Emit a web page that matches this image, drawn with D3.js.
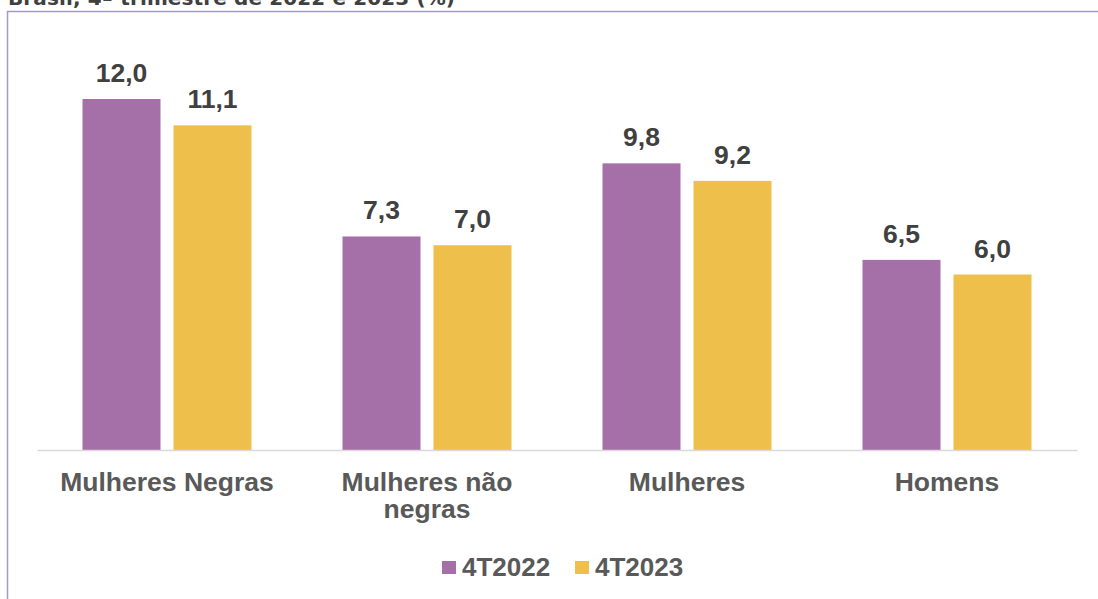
<!DOCTYPE html>
<html>
<head>
<meta charset="utf-8">
<script src="https://cdn.jsdelivr.net/npm/d3@7"></script>
<style>
  body { margin: 0; background: #fff; }
  svg { display: block; }
</style>
</head>
<body>
<svg id="chart" width="1098" height="599"></svg>
<script>
var categories = ["Mulheres Negras", "Mulheres não negras", "Mulheres", "Homens"];
var catLines = [["Mulheres Negras"], ["Mulheres não", "negras"], ["Mulheres"], ["Homens"]];
var series = ["4T2022", "4T2023"];
var values2022 = [12.0, 7.3, 9.8, 6.5];
var values2023 = [11.1, 7.0, 9.2, 6.0];
var colors = ["#A56FA7", "#EEBF4A"];

var svg = d3.select("#chart");

// title, cut off at the top like the original
svg.append("text")
    .attr("x", 8)
    .attr("y", 5)
    .attr("textLength", 447)
    .style("font-family", "DejaVu Sans")
    .style("font-weight", "bold")
    .style("font-size", "20px")
    .style("fill", "#404040")
    .text("Brasil, 4º trimestre de 2022 e 2023 (%)");

// frame lines
svg.append("line")
    .attr("x1", 7).attr("y1", 11.5).attr("x2", 1098).attr("y2", 11.5)
    .style("stroke", "#A29BC2").style("stroke-width", 1.5);
svg.append("line")
    .attr("x1", 7.5).attr("y1", 11).attr("x2", 7.5).attr("y2", 599)
    .style("stroke", "#A29BC2").style("stroke-width", 1.5);

var x0 = d3.scaleBand().domain(categories).range([37, 1077]);
var x1 = d3.scaleBand().domain(series).range([0, x0.bandwidth()])
    .paddingInner(1 / 7).paddingOuter(0.5);
var y = d3.scaleLinear().domain([0, 14]).range([450, 40.5]);

var data = categories.map(function(c, i){
    return { cat: c, vals: [
        { s: series[0], v: values2022[i], color: colors[0] },
        { s: series[1], v: values2023[i], color: colors[1] }
    ]};
});

var groups = svg.selectAll(".grp").data(data).enter().append("g")
    .attr("class", "grp")
    .attr("transform", function(d){ return "translate(" + x0(d.cat) + ",0)"; });

groups.selectAll("rect").data(function(d){ return d.vals; }).enter().append("rect")
    .attr("x", function(d){ return x1(d.s); })
    .attr("y", function(d){ return y(d.v); })
    .attr("width", x1.bandwidth())
    .attr("height", function(d){ return y(0) - y(d.v); })
    .style("fill", function(d){ return d.color; });

groups.selectAll(".val").data(function(d){ return d.vals; }).enter().append("text")
    .attr("class", "val")
    .attr("x", function(d){ return x1(d.s) + x1.bandwidth() / 2; })
    .attr("y", function(d){ return y(d.v) - 17; })
    .attr("text-anchor", "middle")
    .style("font-family", "Liberation Sans, Arial, sans-serif")
    .style("font-weight", "bold")
    .style("font-size", "26.5px")
    .style("fill", "#404040")
    .text(function(d){ return d3.format(".1f")(d.v).replace(".", ","); });

// axis baseline
var xAxis = svg.append("g").attr("transform", "translate(0," + y(0) + ")")
    .call(d3.axisBottom(x0).tickSize(0).tickFormat(""));
xAxis.select(".domain").style("stroke", "#D9D9D9").style("stroke-width", 1.5);

// category labels
var lbl = svg.selectAll(".cat").data(categories).enter().append("text")
    .attr("class", "cat")
    .attr("text-anchor", "middle")
    .style("font-family", "Liberation Sans, Arial, sans-serif")
    .style("font-weight", "bold")
    .style("font-size", "26.5px")
    .style("fill", "#595959");
lbl.each(function(c, i){
    var t = d3.select(this);
    catLines[i].forEach(function(line, j){
        t.append("tspan")
            .attr("x", x0(c) + x0.bandwidth() / 2)
            .attr("y", 491 + j * 27)
            .text(line);
    });
});

// legend
var legendX = [442, 575];
var legend = svg.selectAll(".leg").data(series).enter().append("g")
    .attr("class", "leg")
    .attr("transform", function(d, i){ return "translate(" + legendX[i] + ",0)"; });
legend.append("rect")
    .attr("x", 0).attr("y", 561).attr("width", 14).attr("height", 13)
    .style("fill", function(d, i){ return colors[i]; });
legend.append("text")
    .attr("x", 20).attr("y", 576)
    .style("font-family", "Liberation Sans, Arial, sans-serif")
    .style("font-weight", "bold")
    .style("font-size", "26px")
    .style("fill", "#595959")
    .text(function(d){ return d; });
</script>
</body>
</html>
